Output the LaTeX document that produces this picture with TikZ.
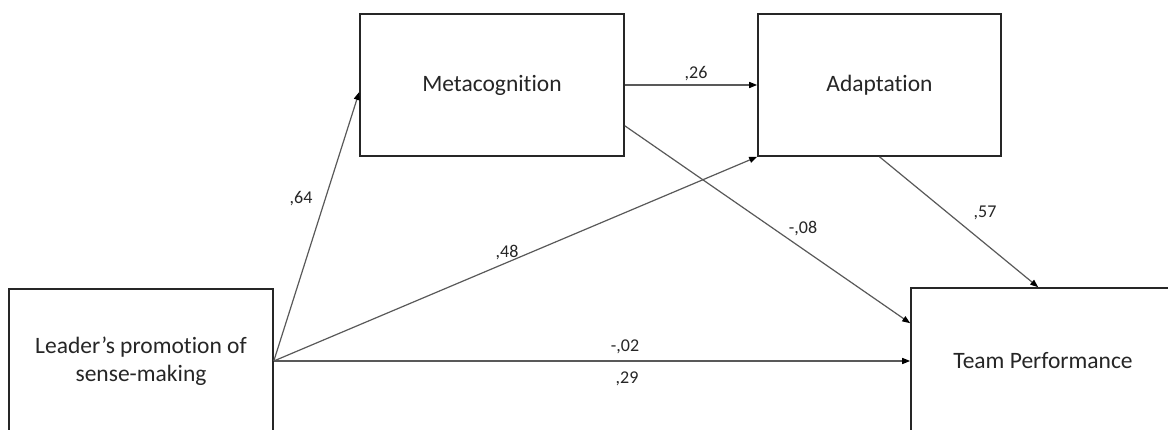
\documentclass[tikz,border=0pt]{standalone}
\usepackage{fontspec}
\setmainfont[Ligatures={NoCommon,NoContextual}, Contextuals=NoAlternate]{Carlito}
\usetikzlibrary{arrows.meta,calc}
\definecolor{ink}{HTML}{262626}
\definecolor{wire}{HTML}{595959}
\tikzset{
  varbox/.style={draw=ink, line width=1.6pt, fill=white, rectangle, inner sep=0pt,
    text=ink, font=\fontsize{23.5}{28}\selectfont, align=center},
  path/.style={draw=wire, line width=1.2pt,
    -{Triangle[length=8pt,width=6pt,color=black]}},
  coef/.style={text=ink, font=\fontsize{18}{21}\selectfont, inner sep=0pt}
}
\begin{document}
\begin{tikzpicture}[x=1pt,y=-1pt]
\useasboundingbox (0,0) rectangle (1168,430);
\clip (0,0) rectangle (1168,430);
\fill[white] (0,0) rectangle (1168,430);

% the four variables
\node[varbox, minimum width=264pt, minimum height=144pt] (lead) at (141,361)
  {Leader’s promotion of\\sense-making};
\node[varbox, minimum width=264pt, minimum height=142pt] (meta) at (492,85) {Metacognition};
\node[varbox, minimum width=243pt, minimum height=142pt] (adapt) at (879.5,85) {Adaptation};
\node[varbox, minimum width=264pt, minimum height=146pt] (tp) at (1043,361) {Team Performance};

% anchor points on the box borders
\coordinate (metaIn)  at ($(meta.west)+(0,7)$);
\coordinate (metaOut) at ($(meta.south east)+(0,-31)$);
\coordinate (tpFromMeta) at ($(tp.north west)+(0,36)$);
\coordinate (tpFromAdapt) at ($(tp.north west)+(128,0)$);

% structural paths
\draw[path] (lead.east) -- (metaIn);
\draw[path] (lead.east) -- (adapt.south west);
\draw[path] (lead.east) -- (tp.west);
\draw[path] (meta.east) -- (adapt.west);
\draw[path] (metaOut) -- (tpFromMeta);
\draw[path] (adapt.south) -- (tpFromAdapt);

% path coefficients
\node[coef] (c64) at (301,199) {,64};
\node[coef] (c48) at (507,253) {,48};
\node[coef] (c02) at (625,347) {-,02};
\node[coef] (c29) at (627,379) {,29};
\node[coef] (c26) at (696,74) {,26};
\node[coef] (c08) at (803,229) {-,08};
\node[coef] (c57) at (985,213) {,57};
\end{tikzpicture}
\end{document}
